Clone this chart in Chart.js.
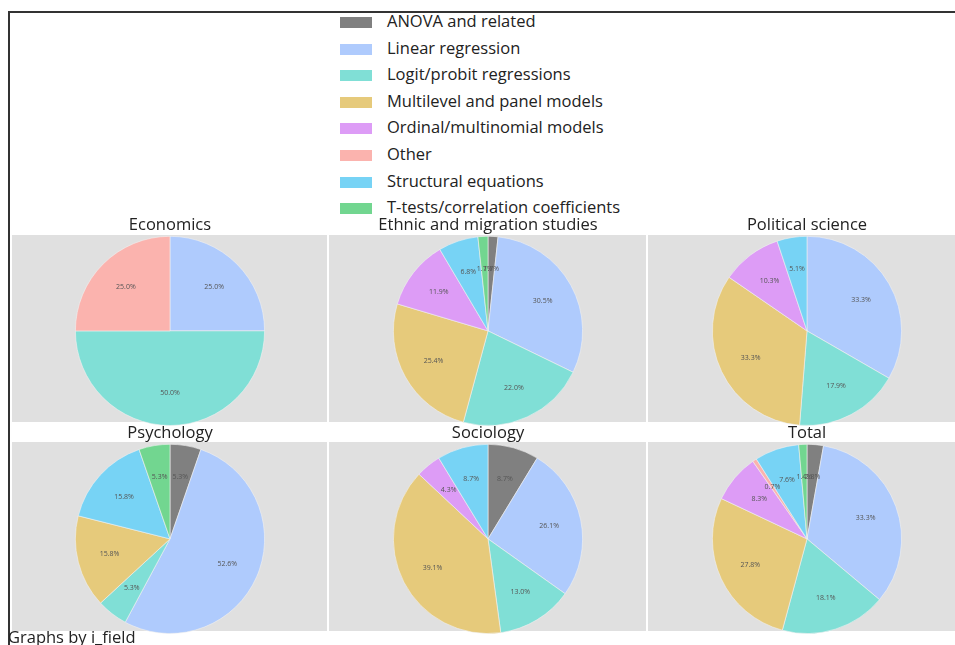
<!DOCTYPE html>
<html>
<head>
<meta charset="utf-8">
<script src="https://cdn.jsdelivr.net/npm/chart.js@4/dist/chart.umd.min.js"></script>
<style>
  html, body { margin: 0; padding: 0; background: #fff; overflow: hidden; }
  body { width: 955px; height: 645px; position: relative; font-family: "Open Sans", "Noto Sans", sans-serif; color: #222; }
  #frame { position: absolute; left: 8px; top: 11px; width: 960px; height: 700px;
           border-left: 2px solid #333; border-top: 2px solid #333; }
  .panel { position: absolute; background: #e0e0e0; }
  .cell { position: absolute; }
  #legend { position: absolute; left: 340px; top: 9px; }
  .item { position: relative; height: 26.6px; }
  .swatch { position: absolute; left: 0; top: 8px; width: 32px; height: 11px; }
  .lbl { position: absolute; left: 47px; top: 0px; font-size: 16.5px; white-space: nowrap; color: #222; }
  #note { position: absolute; left: 8px; top: 625px; font-size: 16.5px; color: #222; white-space: nowrap; }
</style>
</head>
<body>
<div id="frame"></div>
<div id="panels"></div>
<div id="legend"></div>
<div id="cells"></div>
<div id="note">Graphs by i_field</div>
<script>
// Method categories (legend order) and their slice colours
const methods = [
  "ANOVA and related",
  "Linear regression",
  "Logit/probit regressions",
  "Multilevel and panel models",
  "Ordinal/multinomial models",
  "Other",
  "Structural equations",
  "T-tests/correlation coefficients"
];
const methodColors = [
  "#808080", "#afcbfd", "#80dfd6", "#e6ca7b",
  "#dd9cf6", "#fbb3ae", "#77d3f5", "#72d690"
];

// Share of articles (%) using each method, per field
const fields = ["Economics", "Ethnic and migration studies", "Political science",
                "Psychology", "Sociology", "Total"];
const economics        = [0,   25.0, 50.0, 0,    0,    25.0, 0,    0];
const ethnicMigration  = [1.7, 30.5, 22.0, 25.4, 11.9, 0,    6.8,  1.7];
const politicalScience = [0,   33.3, 17.9, 33.3, 10.3, 0,    5.1,  0];
const psychology       = [5.3, 52.6, 5.3,  15.8, 0,    0,    15.8, 5.3];
const sociology        = [8.7, 26.1, 13.0, 39.1, 4.3,  0,    8.7,  0];
const total            = [2.8, 33.3, 18.1, 27.8, 8.3,  0.7,  7.6,  1.4];
const fieldShares = [economics, ethnicMigration, politicalScience, psychology, sociology, total];

// Legend
const legend = document.getElementById("legend");
methods.forEach((m, i) => {
  const row = document.createElement("div");
  row.className = "item";
  row.innerHTML = '<span class="swatch" style="background:' + methodColors[i] + '"></span>' +
                  '<span class="lbl">' + m + '</span>';
  legend.appendChild(row);
});

// Grey plot regions of the 3x2 grid
const panelBoxes = [
  [12, 235, 315, 187], [329, 235, 317, 187], [648, 235, 307, 187],
  [12, 442, 315, 189], [329, 442, 317, 189], [648, 442, 307, 189]
];
const panels = document.getElementById("panels");
panelBoxes.forEach(b => {
  const d = document.createElement("div");
  d.className = "panel";
  d.style.left = b[0] + "px"; d.style.top = b[1] + "px";
  d.style.width = b[2] + "px"; d.style.height = b[3] + "px";
  panels.appendChild(d);
});

// Percentage labels inside each slice
const sliceLabels = {
  id: "sliceLabels",
  afterDatasetsDraw(chart) {
    const ctx = chart.ctx;
    const values = chart.data.datasets[0].data;
    const meta = chart.getDatasetMeta(0);
    ctx.save();
    ctx.font = "7px 'Open Sans', sans-serif";
    ctx.fillStyle = "#555";
    ctx.textAlign = "center";
    ctx.textBaseline = "middle";
    meta.data.forEach((arc, i) => {
      if (!values[i]) return;
      const p = arc.getProps(["x", "y", "startAngle", "endAngle", "outerRadius"], true);
      const mid = (p.startAngle + p.endAngle) / 2;
      const r = p.outerRadius * 0.66;
      ctx.fillText(values[i].toFixed(1) + "%", p.x + Math.cos(mid) * r, p.y + Math.sin(mid) * r);
    });
    ctx.restore();
  }
};

// One pie per field; canvas spans the title plus the plot region
const cellBoxes = [
  [10, 215], [328, 215], [647, 215],
  [10, 423], [328, 423], [647, 423]
];
const cells = document.getElementById("cells");
fields.forEach((f, k) => {
  const wrap = document.createElement("div");
  wrap.className = "cell";
  wrap.style.left = cellBoxes[k][0] + "px";
  wrap.style.top = cellBoxes[k][1] + "px";
  const cv = document.createElement("canvas");
  cv.width = 320; cv.height = 211;
  cv.style.width = "320px"; cv.style.height = "211px";
  wrap.appendChild(cv);
  cells.appendChild(wrap);
  new Chart(cv, {
    type: "pie",
    data: {
      labels: methods,
      datasets: [{
        data: fieldShares[k],
        backgroundColor: methodColors,
        borderColor: "rgba(240,240,240,0.6)",
        borderWidth: 1
      }]
    },
    options: {
      responsive: false,
      animation: false,
      layout: { padding: 0 },
      plugins: {
        legend: { display: false },
        tooltip: { enabled: false },
        title: {
          display: true,
          text: f,
          color: "#222",
          font: { family: "'Open Sans', sans-serif", size: 16.5, weight: "normal" },
          padding: { top: 0, bottom: 1 }
        }
      }
    },
    plugins: [sliceLabels]
  });
});
</script>
</body>
</html>
